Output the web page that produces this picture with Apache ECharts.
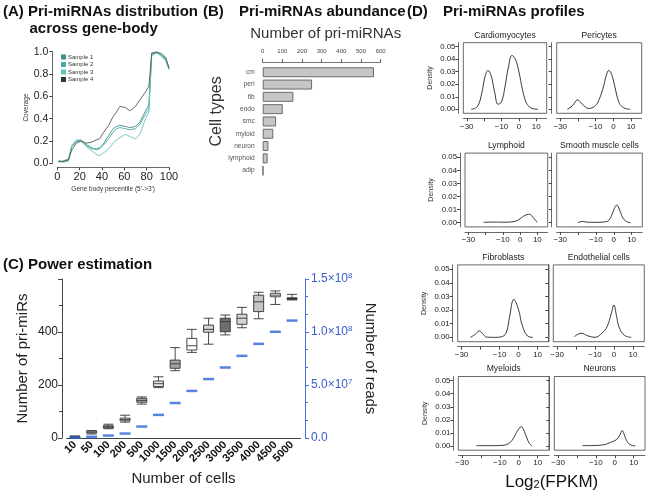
<!DOCTYPE html>
<html><head><meta charset="utf-8">
<script src="https://cdn.jsdelivr.net/npm/echarts@6/dist/echarts.min.js"></script>
<style>html,body{margin:0;padding:0;background:#fff}#c{width:666px;height:493px}</style>
</head><body><div id="c"></div>
<script>
// ---------- Panel A data ----------
const pctX = [1, 5, 10, 13, 17, 21, 26, 31, 35, 38, 41, 46, 50, 53, 56, 61, 65, 70, 74, 79, 82, 83.5, 84.5, 89, 93, 97, 100];
const sample1 = [0.015,0.015,0.03,0.15,0.19,0.20,0.16,0.13,0.13,0.14,0.17,0.25,0.31,0.33,0.34,0.33,0.32,0.33,0.37,0.47,0.52,0.52,0.99,1.0,0.97,0.94,0.86];
const sample2 = [0.02,0.02,0.04,0.16,0.20,0.21,0.17,0.14,0.12,0.13,0.16,0.22,0.28,0.31,0.32,0.31,0.30,0.31,0.35,0.44,0.49,0.50,0.98,0.99,0.97,0.93,0.85];
const sample3 = [0.03,0.01,0.02,0.16,0.21,0.21,0.15,0.11,0.08,0.07,0.09,0.13,0.18,0.21,0.23,0.26,0.24,0.22,0.26,0.40,0.46,0.47,0.96,0.99,0.96,0.92,0.84];
const sample4 = [0.015,0.015,0.03,0.12,0.18,0.20,0.18,0.19,0.21,0.22,0.27,0.34,0.42,0.46,0.51,0.50,0.47,0.51,0.57,0.64,0.69,0.70,0.98,0.995,0.985,0.95,0.85];
const sampleNames = ['Sample 1','Sample 2','Sample 3','Sample 4'];

// ---------- Panel B data ----------
const cellTypesB = ['cm','peri','fib','endo','smc','myloid','neuron','lymphoid','adip'];
const priCountsB = [566, 251, 156, 102, 68, 54, 29, 25, 3];

// ---------- Panel C data ----------
const cellCounts = ['10','50','100','200','500','1000','1500','2000','2500','3000','3500','4000','4500','5000'];
const boxMin = [0, 15, 35, 60, 128, 190, 254, 323, 354, 389, 416, 450, 504, 521];
const boxQ1  = [1, 19, 38, 65, 135, 194, 263, 332, 399, 401, 429, 477, 533, 523];
const boxMed = [3, 22, 42, 70, 142, 205, 280, 348, 410, 439, 452, 514, 539, 526];
const boxQ3  = [5, 26, 46, 75, 150, 215, 294, 376, 426, 452, 467, 539, 546, 529];
const boxMax = [8, 28, 52, 86, 155, 231, 341, 410, 452, 464, 493, 550, 555, 542];
const readsMillions = [0.2, 1.1, 2.3, 4.2, 10.8, 21.8, 33.0, 44.4, 55.6, 66.5, 77.5, 88.8, 100.2, 110.8];
const boxFills = ['#ffffff','#ffffff','#a8a8a8','#ffffff','#b0b0b0','#e6e6e6','#a4a4a4','#ffffff','#d6d6d6','#6e6e6e','#d4d4d4','#c4c4c4','#ffffff','#555555'];
const leftTickLabels = [0, 200, 400];

// ---------- Panel D data ----------
const profileNames = ['Cardiomyocytes','Pericytes','Lymphoid','Smooth muscle cells','Fibroblasts','Endothelial cells','Myeloids','Neurons'];
const cardioX = [-27.5,-24,-21.5,-19.5,-17.8,-16,-14,-12,-10,-8,-6,-4,-2,0,2,4,6,8,11];
const cardioY = [0,0.002,0.012,0.026,0.031,0.027,0.014,0.004,0.006,0.018,0.034,0.043,0.040,0.030,0.016,0.006,0.002,0.0005,0];
const periX = [-26,-23,-20.2,-17.5,-14,-11.5,-9,-6,-4,-2.6,-1,1,3,5,7,9.5];
const periY = [0,0.003,0.0075,0.004,0.0007,0.0015,0.005,0.016,0.027,0.031,0.028,0.017,0.006,0.002,0.0005,0];
const lymphX = [-21.3,-15,-10,-5,-2,0,2,4,5.6,7.5,9.9];
const lymphY = [0.0003,0.0005,0.0004,0.0006,0.0015,0.003,0.005,0.0062,0.0064,0.004,0.0003];
const smcX = [-20.2,-17.4,-15,-10,-5.4,-2.6,-0.5,1.7,3.5,5,7,9.4];
const smcY = [0,0.001,0.0004,0.0003,0.0006,0.002,0.008,0.0135,0.009,0.004,0.001,0];
const fibroX = [-25.3,-23,-20.6,-18.5,-16.9,-12,-9.4,-6.6,-4.7,-2.5,0,1.9,4.7,7.5];
const fibroY = [0,0.002,0.0047,0.002,0.0002,0,0.0003,0.003,0.0154,0.0279,0.0203,0.009,0.001,0];
const endoX = [-20.9,-17.3,-13.6,-10,-6.4,-3.6,-1.5,0,1.3,2.7,5.5,9.1];
const endoY = [0.0005,0.003,0.001,0,0.003,0.008,0.017,0.0238,0.016,0.0075,0.0015,0];
const myeloX = [-22.5,-15,-10,-6.6,-4.5,-2.8,-0.5,1.3,3,4.3,5.6,7];
const myeloY = [0.0003,0.0003,0.0004,0.001,0.0028,0.006,0.012,0.0148,0.011,0.006,0.002,0];
const neuroX = [-17,-10,-5,-3.6,-1,1,2.5,4,5.3,6.7,8.5,10.9];
const neuroY = [0.0003,0.0004,0.0012,0.002,0.0035,0.005,0.008,0.0118,0.0075,0.003,0.0008,0];
const densityTicks = [0, 0.01, 0.02, 0.03, 0.04, 0.05];
const log2Labels = [-30, -10, 0, 10];
const log2Ticks = [-30, -20, -10, 0, 10];

// ---------- build ----------
const FONT = 'Liberation Sans, Arial, sans-serif';
const zip = (a, b) => a.map((v, i) => [v, b[i]]);
const profilesX = [cardioX, periX, lymphX, smcX, fibroX, endoX, myeloX, neuroX];
const profilesY = [cardioY, periY, lymphY, smcY, fibroY, endoY, myeloY, neuroY];

const grids = [], xAxes = [], yAxes = [], series = [], graphics = [];

// Panel A
grids.push({left: 57.3, top: 51.7, width: 111.7, height: 111.6});
xAxes.push({gridIndex: 0, type: 'value', min: 0, max: 100, interval: 20, offset: 4,
  axisLine: {onZero: false, lineStyle: {color: '#444', width: 0.8}}, axisTick: {length: 3, lineStyle: {color: '#444'}},
  axisLabel: {fontSize: 11, color: '#222', fontFamily: FONT, margin: 4}, splitLine: {show: false},
  name: "Gene body percentile (5'->3')", nameLocation: 'middle', nameGap: 18,
  nameTextStyle: {fontSize: 6.5, color: '#333', fontFamily: FONT}});
yAxes.push({gridIndex: 0, type: 'value', min: 0, max: 1, interval: 0.2, offset: 5,
  axisLine: {show: true, onZero: false, lineStyle: {color: '#444', width: 0.8}}, axisTick: {show: true, length: 3, lineStyle: {color: '#444'}},
  axisLabel: {fontSize: 10.5, color: '#222', fontFamily: FONT, margin: 4, formatter: v => v.toFixed(1)}, splitLine: {show: false},
  name: 'Coverage', nameLocation: 'middle', nameGap: 19,
  nameTextStyle: {fontSize: 6.5, color: '#333', fontFamily: FONT}});
const sampleColors = ['#3d8d89', '#45aca6', '#67c4bb', '#203d3b'];
[sample1, sample2, sample3, sample4].forEach((s, i) => {
  series.push({type: 'line', name: sampleNames[i], xAxisIndex: 0, yAxisIndex: 0, data: zip(pctX, s),
    showSymbol: false, symbol: 'rect', color: sampleColors[i],
    lineStyle: {width: 0.9, color: i === 3 ? '#5a5a5a' : sampleColors[i]}, z: i === 3 ? 3 : 2});
});

// Panel B
grids.push({left: 262.7, top: 66.1, width: 118, height: 110.7});
xAxes.push({gridIndex: 1, type: 'value', position: 'top', min: 0, max: 600, interval: 100, offset: 4,
  axisLine: {show: true, onZero: false, lineStyle: {color: '#555', width: 0.8}}, axisTick: {show: true, length: 3, lineStyle: {color: '#555'}},
  axisLabel: {fontSize: 6, color: '#444', fontFamily: FONT, margin: 8}, splitLine: {show: false},
  name: 'Number of pri-miRNAs', nameLocation: 'middle', nameGap: 21,
  nameTextStyle: {fontSize: 15, color: '#333', fontFamily: FONT, padding: [0, 0, 0, 8]}});
yAxes.push({gridIndex: 1, type: 'category', data: cellTypesB, inverse: true,
  axisLine: {show: false}, axisTick: {show: false},
  axisLabel: {fontSize: 6.6, color: '#555', fontFamily: FONT, margin: 8},
  name: 'Cell types', nameLocation: 'middle', nameGap: 34,
  nameTextStyle: {fontSize: 16, color: '#333', fontFamily: FONT, padding: [0, 0, 0, 20]}});
series.push({type: 'bar', xAxisIndex: 1, yAxisIndex: 1, data: priCountsB, barWidth: 10,
  itemStyle: {color: '#c6c6c6', borderColor: '#6a6a6a', borderWidth: 1}});

// Panel C
grids.push({left: 66.6, top: 279, width: 233.8, height: 159});
xAxes.push({gridIndex: 2, type: 'category', data: cellCounts,
  axisLine: {onZero: false, lineStyle: {color: '#444', width: 1}}, axisTick: {alignWithLabel: true, length: 4, lineStyle: {color: '#444'}},
  axisLabel: {rotate: 45, fontSize: 11, color: '#111', fontFamily: FONT, fontWeight: 'bold', margin: 5, interval: 0},
  name: 'Number of cells', nameLocation: 'middle', nameGap: 33,
  nameTextStyle: {fontSize: 15, color: '#222', fontFamily: FONT}});
yAxes.push({gridIndex: 2, type: 'value', min: 0, max: 600, interval: 200, offset: 4.6,
  axisLine: {show: true, onZero: false, lineStyle: {color: '#444', width: 1}}, axisTick: {show: true, length: 4, lineStyle: {color: '#444'}},
  minorTick: {show: true, splitNumber: 2, length: 3, lineStyle: {color: '#444'}},
  axisLabel: {fontSize: 12, color: '#222', fontFamily: FONT, margin: 4, customValues: leftTickLabels}, splitLine: {show: false},
  name: 'Number of pri-miRs', nameLocation: 'middle', nameGap: 32,
  nameTextStyle: {fontSize: 15, color: '#222', fontFamily: FONT}});
const sci = v => {
  if (v === 0) return '0.0';
  const e = Math.floor(Math.log10(v) + 1e-9);
  return (v / Math.pow(10, e)).toFixed(1) + '×10{sup|' + e + '}';
};
yAxes.push({gridIndex: 2, type: 'value', position: 'right', min: 0, max: 1.5e8, interval: 5e7, offset: 4.6,
  axisLine: {show: true, onZero: false, lineStyle: {color: '#4470d8', width: 1}}, axisTick: {show: true, length: 4, lineStyle: {color: '#4470d8'}},
  minorTick: {show: true, splitNumber: 3, length: 3, lineStyle: {color: '#4470d8'}},
  axisLabel: {fontSize: 12, color: '#3a5ccc', fontFamily: FONT, margin: 6, formatter: sci,
    rich: {sup: {fontSize: 8, color: '#3a5ccc', fontFamily: FONT, verticalAlign: 'top', padding: [0, 0, 6, 0]}}},
  splitLine: {show: false},
  name: 'Number of reads', nameLocation: 'middle', nameGap: 58, nameRotate: -90,
  nameTextStyle: {fontSize: 15, color: '#222', fontFamily: FONT}});
series.push({type: 'boxplot', xAxisIndex: 2, yAxisIndex: 2, boxWidth: [10, 10],
  data: cellCounts.map((c, i) => ({value: [boxMin[i], boxQ1[i], boxMed[i], boxQ3[i], boxMax[i]],
    itemStyle: {color: boxFills[i], borderColor: '#333', borderWidth: 0.9}})),
  itemStyle: {borderColor: '#333', borderWidth: 0.9}});
series.push({type: 'scatter', xAxisIndex: 2, yAxisIndex: 3, data: readsMillions.map(v => v * 1e6),
  symbol: 'rect', symbolSize: [11, 2.5], itemStyle: {color: '#2d64d8'}, z: 5});

// Panel D
const dGrids = [
  {l: 463.3, r: 546.7, t: 42.7, b: 113.3}, {l: 556.7, r: 641.7, t: 42.7, b: 113.3},
  {l: 465, r: 547.7, t: 153.1, b: 226.9}, {l: 556.7, r: 642.3, t: 153.1, b: 226.9},
  {l: 457.7, r: 549, t: 264.9, b: 341.7}, {l: 553.3, r: 644.3, t: 264.9, b: 341.7},
  {l: 458.3, r: 549, t: 376.5, b: 450.2}, {l: 554.3, r: 645, t: 376.5, b: 450.2}];
dGrids.forEach((g, i) => {
  const gi = 3 + i;
  const leftCol = i % 2 === 0;
  grids.push({left: g.l, top: g.t, width: g.r - g.l, height: g.b - g.t, show: true,
    borderColor: '#444', borderWidth: 0.8, backgroundColor: 'rgba(0,0,0,0)'});
  xAxes.push({gridIndex: gi, type: 'value', min: -32, max: 16, offset: 5,
    axisLine: {show: true, onZero: false, lineStyle: {color: '#444', width: 0.8}},
    axisTick: {show: true, length: 3, lineStyle: {color: '#444'}, customValues: log2Ticks},
    axisLabel: {fontSize: 8, color: '#222', fontFamily: FONT, margin: 4, customValues: log2Labels,
      formatter: v => String(v).replace('-', '\u2212')},
    splitLine: {show: false}});
  yAxes.push({gridIndex: gi, type: 'value', min: -0.0032, max: 0.0532, offset: 5,
    axisLine: {show: true, onZero: false, lineStyle: {color: '#444', width: 0.8}},
    axisTick: {show: true, length: 3, lineStyle: {color: '#444'}, customValues: densityTicks},
    axisLabel: {show: leftCol, fontSize: 7.8, color: '#222', fontFamily: FONT, margin: 3, customValues: densityTicks,
      formatter: v => v.toFixed(2)},
    splitLine: {show: false},
    name: leftCol ? 'Density' : '', nameLocation: 'middle', nameGap: 25,
    nameTextStyle: {fontSize: 7, color: '#333', fontFamily: FONT}});
  series.push({type: 'line', xAxisIndex: gi, yAxisIndex: 3 + gi - 2, data: zip(profilesX[i], profilesY[i]),
    smooth: 0.4, showSymbol: false, lineStyle: {color: '#222', width: 0.9}});
  graphics.push({type: 'text', x: (g.l + g.r) / 2, y: g.t - 7.5,
    style: {text: profileNames[i], fontSize: 8.6, fontFamily: FONT, fill: '#222', textAlign: 'center', textVerticalAlign: 'middle'}});
});

// Titles
const T = (text, x, y, size, bold) => ({type: 'text', x, y,
  style: {text, fontSize: size, fontWeight: bold ? 'bold' : 'normal', fontFamily: FONT, fill: '#111', textVerticalAlign: 'middle'}});
graphics.push(T('(A) Pri-miRNAs distribution', 3, 12, 15, true));
graphics.push(T('across gene-body', 29.5, 29, 15, true));
graphics.push(T('(B)', 203, 12, 15, true));
graphics.push(T('Pri-miRNAs abundance', 239, 12, 15, true));
graphics.push(T('(C) Power estimation', 3, 265, 15, true));
graphics.push(T('(D)', 407, 12, 15, true));
graphics.push(T('Pri-miRNAs profiles', 443, 12, 15, true));
graphics.push({type: 'text', x: 551.7, y: 482,
  style: {text: 'Log{sub|2}(FPKM)', fontSize: 17, fontFamily: FONT, fill: '#111', textAlign: 'center', textVerticalAlign: 'middle',
    rich: {sub: {fontSize: 11, fontFamily: FONT, fill: '#111', verticalAlign: 'bottom', padding: [6, 0, 0, 0]}}}});

const chart = echarts.init(document.getElementById('c'), null, {renderer: 'canvas'});
chart.setOption({
  animation: false,
  backgroundColor: '#ffffff',
  textStyle: {fontFamily: FONT},
  legend: {data: sampleNames, orient: 'vertical', left: 61, top: 54, itemWidth: 5, itemHeight: 5, itemGap: 1.5,
    icon: 'rect', padding: 0, textStyle: {fontSize: 6, color: '#333', fontFamily: FONT, padding: [0, 0, 0, -3]}},
  grid: grids, xAxis: xAxes, yAxis: yAxes, series, graphic: graphics
});
</script></body></html>
